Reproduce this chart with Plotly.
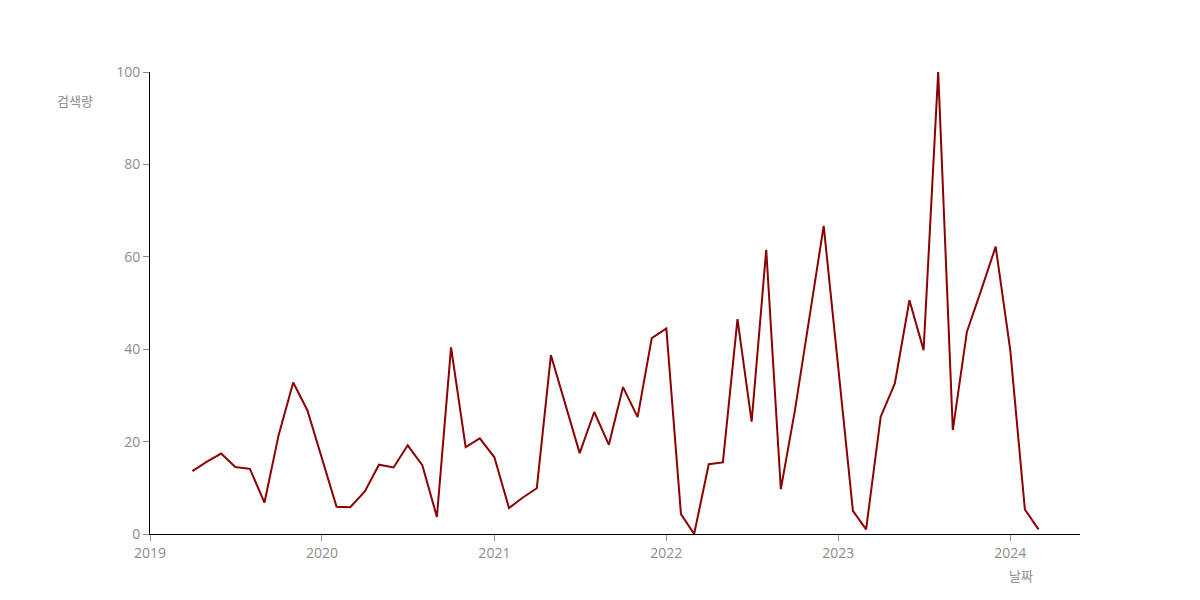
import plotly.graph_objects as go
import pandas as pd

dates = pd.date_range("2019-04-01", "2024-03-01", freq="MS")
values = [
    13.6, 15.6, 17.4, 14.5, 14.1, 6.8, 21.4, 32.8, 26.8,          # 2019 Apr-Dec
    16.5, 5.9, 5.8, 9.2, 15.0, 14.4, 19.2, 14.9, 3.7, 40.4, 18.8, 20.7,  # 2020
    16.6, 5.6, 7.8, 9.9, 38.7, 28.1, 17.5, 26.4, 19.3, 31.8, 25.3, 42.4,  # 2021
    44.5, 4.3, 0.0, 15.1, 15.5, 46.5, 24.3, 61.5, 9.7, 26.8, 46.8, 66.7,  # 2022
    35.9, 5.0, 1.0, 25.4, 32.6, 50.6, 39.8, 100.0, 22.5, 43.8, 53.0, 62.2,  # 2023
    39.8, 5.3, 1.0,                                                 # 2024
]
tick_vals = ["2019-01-01", "2020-01-01", "2021-01-01", "2022-01-01", "2023-01-01", "2024-01-01"]
tick_text = ["2019", "2020", "2021", "2022", "2023", "2024"]
y_title = "검색량"
x_title = "날짜"

FONT = "Noto Sans CJK KR"
TICKFONT = "Open Sans"
GREY = "#8c8c8c"

fig = go.Figure()
fig.add_trace(go.Scatter(
    x=dates, y=values, mode="lines",
    line=dict(color="#8B0000", width=2),
    showlegend=False,
))

fig.update_layout(
    width=1200, height=600,
    paper_bgcolor="white", plot_bgcolor="white",
    margin=dict(l=142, r=128, t=64, b=74),
    font=dict(family=FONT, size=13, color=GREY),
    xaxis=dict(
        range=["2019-01-01", "2024-05-28"],
        tickvals=tick_vals, ticktext=tick_text,
        showgrid=False, zeroline=False,
        showline=True, linecolor="black", linewidth=1,
        ticks="outside", ticklen=6, tickcolor=GREY, tickwidth=1,
        tickfont=dict(family=TICKFONT, size=14, color=GREY),
    ),
    yaxis=dict(
        range=[0, 100], tickvals=[0, 20, 40, 60, 80, 100],
        showgrid=False, zeroline=False,
        showline=True, linecolor="black", linewidth=1,
        ticks="outside", ticklen=6, tickcolor=GREY, tickwidth=1,
        tickfont=dict(family=TICKFONT, size=14, color=GREY),
    ),
    annotations=[
        dict(text=y_title, xref="paper", yref="paper", x=-0.059, y=0.939,
             xanchor="right", yanchor="middle", showarrow=False,
             font=dict(family=FONT, size=13, color=GREY)),
        dict(text=x_title, xref="paper", yref="paper", x=0.937, y=-0.089,
             xanchor="center", yanchor="middle", showarrow=False,
             font=dict(family=FONT, size=13, color=GREY)),
    ],
)

fig.write_html("out.html")
